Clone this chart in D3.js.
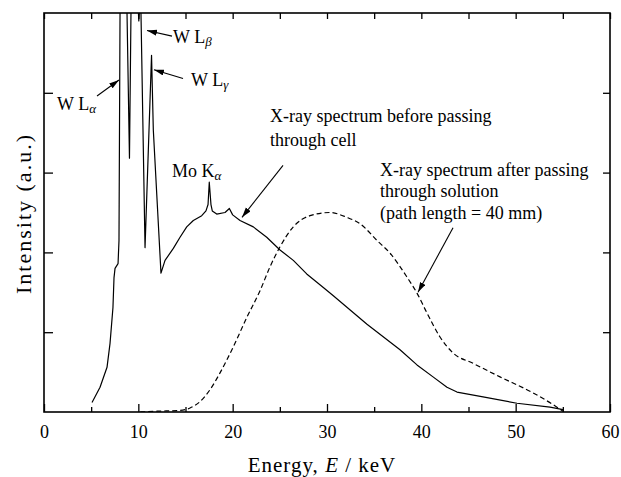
<!DOCTYPE html>
<html>
<head>
<meta charset="utf-8">
<script src="https://cdn.jsdelivr.net/npm/d3@7"></script>
<style>
  body { margin: 0; background: #fff; }
  text { font-family: "Liberation Serif", "Times New Roman", Times, "DejaVu Serif", serif !important; }
</style>
</head>
<body>
<svg class="chart" width="621" height="477"></svg>
<script>
// spectrum before the cell (solid)
const beforeE = [5.09, 5.94, 6.68, 7.0, 7.31, 7.42, 7.53, 7.85, 7.95, 8.06, 8.4, 8.8, 9.06, 9.22, 9.6, 9.95, 10.05, 10.15, 10.28,
                 10.71, 11.4, 11.59, 12.4, 12.83, 13.71, 14.42, 15.13, 15.83, 16.72, 17.17, 17.39, 17.52, 17.7, 17.84, 18.31,
                 19.19, 19.65, 20.0, 20.78, 22.19, 23.61, 25.02, 26.43, 27.85, 29.61, 30.64, 34.24, 37.74, 39.54, 41.24,
                 42.72, 43.78, 46.54, 50.14, 53.64, 55.02]
const beforeI = [0.12, 0.31, 0.56, 0.86, 1.31, 1.68, 1.8, 1.86, 2.15, 5.0, 7.6, 5.0, 3.18, 5.0, 5.9, 5.15, 4.9, 5.1, 5.0,
                 2.06, 4.47, 3.53, 1.74, 1.9, 2.05, 2.19, 2.32, 2.4, 2.46, 2.52, 2.6, 2.88, 2.6, 2.52, 2.48,
                 2.5, 2.55, 2.47, 2.4, 2.32, 2.19, 2.03, 1.9, 1.73, 1.56, 1.46, 1.1, 0.78, 0.59, 0.44,
                 0.31, 0.25, 0.19, 0.11, 0.06, 0.03]

// spectrum after the solution (dashed)
const afterE = [10.2, 12.0, 14.4, 15.48, 16.54, 17.6, 18.66, 20.04, 21.52, 22.9, 23.96, 25.02, 26.43, 28.2, 30.32, 32.09,
                33.5, 35.3, 36.68, 38.48, 39.54, 40.6, 41.98, 43.36, 45.48, 48.34, 51.84, 54.38, 55.0]
const afterI = [0.0, 0.01, 0.02, 0.05, 0.13, 0.28, 0.49, 0.81, 1.19, 1.52, 1.82, 2.07, 2.32, 2.46, 2.5, 2.44,
                2.36, 2.15, 1.99, 1.69, 1.49, 1.24, 0.94, 0.74, 0.61, 0.44, 0.24, 0.06, 0.01]

const majorTicks = [0, 10, 20, 30, 40, 50, 60],
      minorTicks = [5, 15, 25, 35, 45, 55],
      yTicks = [1, 2, 3, 4]

const margin = { top: 13, right: 11, bottom: 65, left: 44 },
      width = 621 - margin.left - margin.right,
      height = 477 - margin.top - margin.bottom

var svg = d3.select(".chart")

var x = d3.scaleLinear().domain([0, 60]).range([0, width])
var y = d3.scaleLinear().domain([0, 5]).range([height, 0])

var g = svg.append("g")
  .attr("transform", "translate(" + margin.left + "," + margin.top + ")")

svg.append("defs").append("clipPath").attr("id", "clip")
  .append("rect").attr("width", width).attr("height", height)

svg.select("defs").append("marker")
  .attr("id", "arrow")
  .attr("markerUnits", "userSpaceOnUse")
  .attr("markerWidth", 12).attr("markerHeight", 8)
  .attr("refX", 10).attr("refY", 3)
  .attr("orient", "auto")
  .append("path").attr("d", "M0,0 L10,3 L0,6 Z").attr("fill", "#000")

// axes, ticks pointing inward
function noDomain(sel) { sel.select(".domain").remove(); sel.selectAll("line").attr("stroke-width", 1.3) }

g.append("g").attr("transform", "translate(0," + height + ")")
  .call(d3.axisBottom(x).tickValues(majorTicks).tickSize(-8).tickPadding(13).tickFormat(d3.format("d")))
  .call(noDomain)
  .selectAll("text").attr("font-size", "18px").attr("fill", "#000")

g.append("g").attr("transform", "translate(0," + height + ")")
  .call(d3.axisBottom(x).tickValues(minorTicks).tickSize(-5).tickFormat(""))
  .call(noDomain)

g.append("g")
  .call(d3.axisTop(x).tickValues(majorTicks.concat(minorTicks)).tickSize(-6).tickFormat(""))
  .call(noDomain)

g.append("g")
  .call(d3.axisLeft(y).tickValues(yTicks).tickSize(-9).tickFormat(""))
  .call(noDomain)

g.append("g").attr("transform", "translate(" + width + ",0)")
  .call(d3.axisRight(y).tickValues(yTicks).tickSize(-7).tickFormat(""))
  .call(noDomain)

g.append("rect")
  .attr("width", width).attr("height", height)
  .attr("fill", "none").attr("stroke", "#000").attr("stroke-width", 1.6)

// curves
var line = d3.line().x(function(d) { return x(d[0]) }).y(function(d) { return y(d[1]) })

g.append("path")
  .datum(d3.zip(beforeE, beforeI))
  .attr("clip-path", "url(#clip)")
  .attr("fill", "none").attr("stroke", "#000").attr("stroke-width", 1.2)
  .attr("stroke-linejoin", "round")
  .attr("d", line)

g.append("path")
  .datum(d3.zip(afterE, afterI))
  .attr("clip-path", "url(#clip)")
  .attr("fill", "none").attr("stroke", "#000").attr("stroke-width", 1.2)
  .attr("stroke-dasharray", "5,3")
  .attr("d", line.curve(d3.curveMonotoneX))

// annotations (positions in data units)
const arrows = [
  [5.62, 3.96, 7.95, 4.16],
  [13.57, 4.71, 10.92, 4.78],
  [14.74, 4.18, 11.66, 4.29],
  [25.34, 3.09, 20.99, 2.44],
  [43.36, 2.31, 39.65, 1.5]
]

g.selectAll(".arrow").data(arrows).enter().append("line")
  .attr("class", "arrow")
  .attr("x1", function(d) { return x(d[0]) }).attr("y1", function(d) { return y(d[1]) })
  .attr("x2", function(d) { return x(d[2]) }).attr("y2", function(d) { return y(d[3]) })
  .attr("stroke", "#000").attr("stroke-width", 1.1)
  .attr("marker-end", "url(#arrow)")

const lineLabels = [
  { E: 1.38, I: 3.78, main: "W L", sub: "α" },
  { E: 13.68, I: 4.63, main: "W L", sub: "β" },
  { E: 15.58, I: 4.09, main: "W L", sub: "γ" },
  { E: 13.57, I: 2.94, main: "Mo K", sub: "α" }
]

lineLabels.forEach(function(l) {
  var t = g.append("text")
    .attr("x", x(l.E)).attr("y", y(l.I))
    .attr("font-size", "18px").attr("fill", "#000")
  t.append("tspan").text(l.main)
  t.append("tspan").attr("dy", 3).attr("font-size", "13px").attr("font-style", "italic").text(l.sub)
})

const notes = [
  { E: 23.96, I: 3.63, lines: ["X-ray spectrum before passing", "through cell"], gap: 24 },
  { E: 35.62, I: 2.96, lines: ["X-ray spectrum after passing", "through solution", "(path length = 40 mm)"], gap: 21.5 }
]

notes.forEach(function(n) {
  var t = g.append("text")
    .attr("font-size", "18px").attr("fill", "#000")
  n.lines.forEach(function(s, i) {
    t.append("tspan").attr("x", x(n.E)).attr("y", y(n.I) + i * n.gap).text(s)
  })
})

// axis titles
var xt = svg.append("text")
  .attr("x", 322).attr("y", 472)
  .attr("text-anchor", "middle").attr("font-size", "21px")
  .attr("letter-spacing", "1px")
xt.append("tspan").text("Energy, ")
xt.append("tspan").attr("font-style", "italic").text("E")
xt.append("tspan").text(" / keV")

svg.append("text")
  .attr("transform", "translate(31," + (margin.top + height / 2 + 1) + ") rotate(-90)")
  .attr("text-anchor", "middle").attr("font-size", "22px")
  .attr("letter-spacing", "2px")
  .text("Intensity (a.u.)")
</script>
</body>
</html>
